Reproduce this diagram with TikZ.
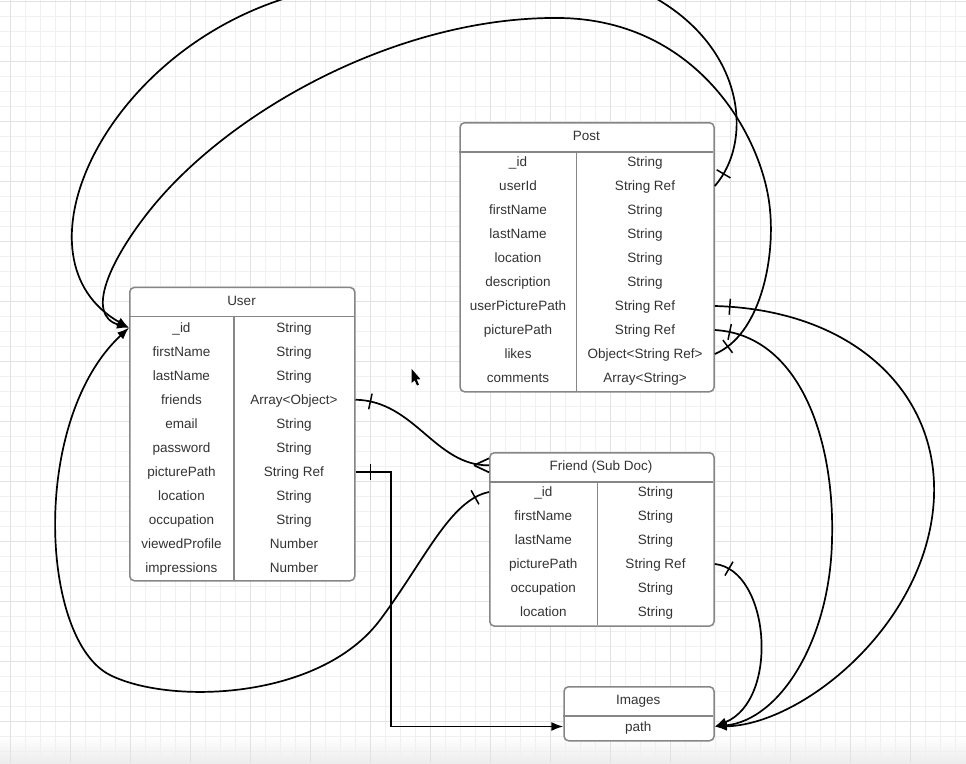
\documentclass[tikz,border=0pt]{standalone}
\usepackage{fontspec}
\setmainfont{Liberation Sans}
\usetikzlibrary{arrows.meta,decorations.markings}
\definecolor{txt}{HTML}{333333}
\definecolor{frame}{HTML}{868686}
\definecolor{gridminor}{HTML}{F0F0F0}
\definecolor{gridmajor}{HTML}{E2E2E2}

\begin{document}
\begin{tikzpicture}[x=1pt,y=-1pt,
  tbl/.style={draw=frame, line width=1.5pt, fill=white, rounded corners=4.5pt,
    inner sep=0pt, anchor=north west},
  rule/.style={draw=frame, line width=1.5pt},
  cell/.style={font=\fontsize{13.5}{16}\selectfont, text=txt, inner sep=0pt,
    text height=9.7pt, text depth=0pt},
  conn/.style={draw=black, line width=1.7pt},
  tip/.style={-{Latex[length=12pt,width=9pt]}},
  tickstart/.style={postaction={decorate}, decoration={markings,
    mark=at position 15pt with {\draw[-, black, line width=1.5pt] (0,-8) -- (0,8);}}},
]
\useasboundingbox (0,0) rectangle (966,763);
\begin{scope}
\clip (0,0) rectangle (966,763);

% canvas and grid
\fill[white] (0,0) rectangle (966,763);
\shade[top color=white, bottom color=black!7] (0,735) rectangle (966,763);
\foreach \k in {0,...,64}
  \draw[gridminor, line width=0.8pt] ({10+15*\k},0) -- ({10+15*\k},763);
\foreach \k in {0,...,51}
  \draw[gridminor, line width=0.8pt] (0,{1.7+15*\k}) -- (966,{1.7+15*\k});
\foreach \k in {0,...,16}
  \draw[gridmajor, line width=0.8pt] ({10+60*\k},0) -- ({10+60*\k},763);
\foreach \k in {0,...,12}
  \draw[gridmajor, line width=0.8pt] (0,{1.7+60*\k}) -- (966,{1.7+60*\k});

% ---------- User ----------
\node[tbl, minimum width=225pt, minimum height=293.3pt] (user) at (129,286.7) {};
\draw[rule] (129,316.7) -- (354,316.7);
\draw[rule] (234,316.7) -- (234,580);
\node[cell] (user-h) at (241.5,300.5) {User};
\foreach \a/\b [count=\i] in {\_id/String, firstName/String, lastName/String,
    friends/Array<Object>, email/String, password/String, picturePath/String Ref,
    location/String, occupation/String, viewedProfile/Number, impressions/Number}{
  \node[cell] (user-a\i) at (181.5,{327.7+24*(\i-1)}) {\a};
  \node[cell] (user-b\i) at (294,{327.7+24*(\i-1)}) {\b};
}

% ---------- Post ----------
\node[tbl, minimum width=254pt, minimum height=269pt] (post) at (459.3,122) {};
\draw[rule] (459.3,152) -- (713.3,152);
\draw[rule] (576.7,152) -- (576.7,391);
\node[cell] (post-h) at (586.3,135.3) {Post};
\foreach \a/\b [count=\i] in {\_id/String, userId/String Ref, firstName/String,
    lastName/String, location/String, description/String,
    userPicturePath/String Ref, picturePath/String Ref,
    likes/Object<String Ref>, comments/Array<String>}{
  \node[cell] (post-a\i) at (518,{162+24*(\i-1)}) {\a};
  \node[cell] (post-b\i) at (645,{162+24*(\i-1)}) {\b};
}

% ---------- Friend (Sub Doc) ----------
\node[tbl, minimum width=224.3pt, minimum height=173.3pt] (friend) at (489,452) {};
\draw[rule] (489,482) -- (713.3,482);
\draw[rule] (597.7,482) -- (597.7,625.3);
\node[cell] (friend-h) at (601,465.3) {Friend (Sub Doc)};
\foreach \a/\b [count=\i] in {\_id/String, firstName/String, lastName/String,
    picturePath/String Ref, occupation/String, location/String}{
  \node[cell] (friend-a\i) at (543.3,{492+24*(\i-1)}) {\a};
  \node[cell] (friend-b\i) at (655.5,{492+24*(\i-1)}) {\b};
}

% ---------- Images ----------
\node[tbl, minimum width=150pt, minimum height=54pt] (images) at (563.3,686) {};
\draw[rule] (563.3,716) -- (713.3,716);
\node[cell] (images-h) at (638.3,699.3) {Images};
\node[cell] (images-r) at (638.3,726.5) {path};

% ---------- relations ----------
% Post.userId -> User._id, looping over the top
\draw[conn, tip, tickstart] (post.east |- post-a2)
  .. controls (755,140) and (745,40) .. (640,-10)
  .. controls (560,-48) and (370,-30) .. (280,0)
  .. controls (100,60) and (10,260) .. (user.west |- user-a1);
% Post.likes -> User._id
\draw[conn, tip, tickstart] (post.east |- post-a9)
  .. controls (760,335) and (775,260) .. (770,210)
  .. controls (764,140) and (700,20) .. (560,18)
  .. controls (400,16) and (230,110) .. (150,210)
  .. controls (110,260) and (85,315) .. (user.west |- user-a1);
% Friend._id -> User._id
\draw[conn, tip, tickstart] (friend.west |- friend-a1)
  .. controls (450,500) and (425,560) .. (380,620)
  .. controls (320,700) and (170,705) .. (110,675)
  .. controls (40,640) and (30,420) .. (user.west |- user-a1);
% User.friends -> Friend (one to many)
\coordinate (foot) at (friend.west |- friend-h);
\draw[conn, tickstart] (user.east |- user-a4)
  .. controls (415,401) and (435,466) .. (foot);
\draw[conn] (foot) ++(-15,0) -- +(15,-7) +(0,0) -- +(15,7);
% User.picturePath -> Images.path
\draw[conn, tip, tickstart] (user.east |- user-a7) -| (391,726.5)
  -- (images.west |- images-r);
% Post.userPicturePath -> Images.path
\draw[conn, tip, tickstart] (post.east |- post-a7)
  .. controls (860,310) and (945,400) .. (933,510)
  .. controls (920,630) and (800,725) .. (images.east |- images-r);
% Post.picturePath -> Images.path
\draw[conn, tip, tickstart] (post.east |- post-a8)
  .. controls (800,335) and (835,440) .. (832,540)
  .. controls (830,640) and (780,720) .. (images.east |- images-r);
% Friend.picturePath -> Images.path
\draw[conn, tip, tickstart] (friend.east |- friend-a4)
  .. controls (770,570) and (780,700) .. (images.east |- images-r);

% pointer
\fill[black] (411.7,369) -- (411.7,383) -- (414.6,380.2) -- (417,385.5)
  -- (419,384.6) -- (416.7,379.4) -- (420.5,379.2) -- cycle;
\end{scope}
\end{tikzpicture}
\end{document}
